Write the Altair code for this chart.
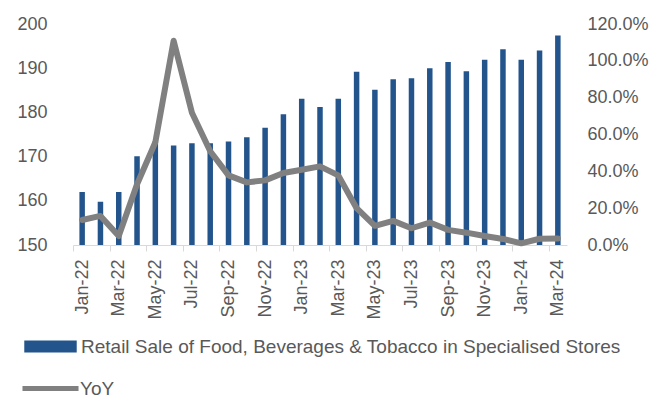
import altair as alt
import pandas as pd

months = ["Jan-22", "Feb-22", "Mar-22", "Apr-22", "May-22", "Jun-22", "Jul-22", "Aug-22", "Sep-22",
          "Oct-22", "Nov-22", "Dec-22", "Jan-23", "Feb-23", "Mar-23", "Apr-23", "May-23", "Jun-23",
          "Jul-23", "Aug-23", "Sep-23", "Oct-23", "Nov-23", "Dec-23", "Jan-24", "Feb-24", "Mar-24"]
sales = [162.0, 159.8, 162.0, 170.1, 173.5, 172.5, 173.0, 173.0, 173.4, 174.4, 176.5, 179.6, 183.1,
         181.2, 183.1, 189.2, 185.1, 187.5, 187.7, 190.0, 191.4, 189.3, 191.9, 194.3, 191.9, 194.0, 197.4]
yoy_pct = [13.6, 15.8, 4.9, 33.0, 55.8, 110.9, 71.8, 50.9, 37.8, 34.0, 35.1, 39.1, 40.9, 42.7, 37.8,
           20.0, 10.4, 13.1, 9.1, 12.2, 8.2, 6.7, 4.9, 3.3, 0.9, 3.4, 3.5]
left_ticks = [150, 160, 170, 180, 190, 200]
right_ticks = [0.0, 0.2, 0.4, 0.6, 0.8, 1.0, 1.2]
bar_name = "Retail Sale of Food, Beverages & Tobacco in Specialised Stores"
line_name = "YoY"

df = pd.DataFrame({
    "month": months,
    "sales": sales,
    "yoy": [v / 100 for v in yoy_pct],
    "bar_series": bar_name,
    "line_series": line_name,
})

W, H = 494, 221
STEP = W / len(months)
FONT = "Liberation Sans"
TXT = "#595959"
BLUE = "#23548B"
GRAY = "#808080"

x = alt.X("month:N", sort=months, title=None,
          scale=alt.Scale(paddingInner=0.7, paddingOuter=0.35),
          axis=alt.Axis(values=months[::2], labelAngle=270, labelAlign="right", labelBaseline="middle",
                        labelFont=FONT, labelFontSize=18, labelColor=TXT, labelPadding=8,
                        domainColor="#D9D9D9", tickColor="#D9D9D9", tickSize=6,
                        tickOffset=-STEP / 2, labelOffset=STEP / 2, grid=False))

bars = alt.Chart(df).mark_bar(clip=True).encode(
    x=x,
    y=alt.Y("sales:Q", title=None,
            scale=alt.Scale(domain=[150, 200], zero=False, nice=False),
            axis=alt.Axis(values=left_ticks, orient="left", domain=False, ticks=False, grid=False,
                          labelFont=FONT, labelFontSize=18, labelColor=TXT, labelPadding=26)),
    fill=alt.Fill("bar_series:N", scale=alt.Scale(domain=[bar_name], range=[BLUE]),
                  legend=alt.Legend(title=None, orient="none", legendX=-32, legendY=313,
                                    symbolType="M-4.37,-1L4.37,-1L4.37,1L-4.37,1Z", symbolSize=144,
                                    symbolStrokeWidth=0, labelFont=FONT, labelFontSize=19,
                                    labelColor=TXT, labelLimit=800, labelOffset=21, padding=0)),
)

line = alt.Chart(df).mark_line(strokeWidth=6, strokeJoin="round", strokeCap="round").encode(
    x=x,
    y=alt.Y("yoy:Q", title=None,
            scale=alt.Scale(domain=[0, 1.2], nice=False),
            axis=alt.Axis(values=right_ticks, orient="right", format=".1%", domain=False, ticks=False,
                          grid=False, labelFont=FONT, labelFontSize=18, labelColor=TXT, labelPadding=20)),
    stroke=alt.Stroke("line_series:N", scale=alt.Scale(domain=[line_name], range=[GRAY]),
                      legend=alt.Legend(title=None, orient="none", legendX=-32, legendY=355,
                                        symbolType="M-4.67,0L4.67,0", symbolSize=144, symbolStrokeWidth=5,
                                        labelFont=FONT, labelFontSize=19, labelColor=TXT,
                                        labelOffset=20, padding=0)),
)

chart = alt.layer(bars, line).resolve_scale(y="independent", fill="independent", stroke="independent").properties(
    width=W, height=H,
    autosize=alt.AutoSizeParams(type="none"),
    padding={"left": 65, "top": 16, "right": 90, "bottom": 154},
).configure_view(stroke=None)

chart.save("out.html", embed_options={"renderer": "svg", "actions": False})
